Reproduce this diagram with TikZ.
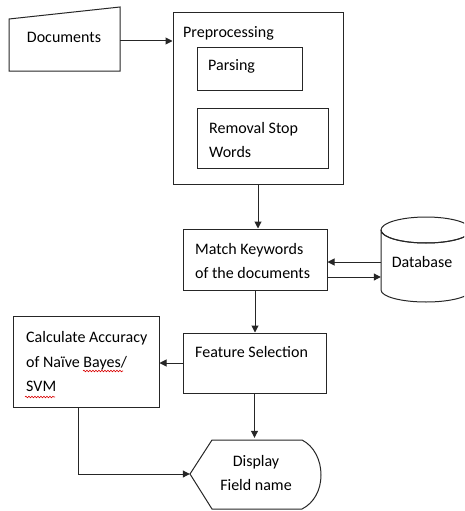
\documentclass[tikz,border=0pt]{standalone}
\usepackage{fontspec}
\setmainfont{Carlito}
\usetikzlibrary{arrows.meta,calc,decorations.pathmorphing}

\tikzset{
  line/.style={draw=black!85, line width=1pt},
  arr/.style={line, -{Triangle[length=7pt,width=7pt]}},
  box/.style={line, rectangle, inner sep=0pt, anchor=center},
  txt/.style={font=\fontsize{16}{24.5}\selectfont, align=left, inner sep=0pt},
  squiggle/.style={draw=red!85!black, line width=0.6pt,
    decorate, decoration={snake, amplitude=0.8pt, segment length=3pt}}
}

\begin{document}
\begin{tikzpicture}[x=1pt,y=-1pt]
\useasboundingbox (0,0) rectangle (464,511);
\clip (0,0) rectangle (464,511);

% Documents (manual input shape)
\draw[line] (9,19) -- (120,7) -- (120,71) -- (9,71) -- cycle;
\node[minimum width=111pt, minimum height=64pt, inner sep=0pt] (docs) at (64.5,39) {};
\node[txt] (docstxt) at (64,37) {Documents};

% Preprocessing block with its two steps
\node[box, minimum width=170pt, minimum height=171pt] (pre) at (258,98.5) {};
\node[txt, anchor=west] (pretxt) at (183,33) {Preprocessing};
\node[box, minimum width=105pt, minimum height=42pt] (parse) at (249.5,69) {};
\node[txt, anchor=west] (parsetxt) at (208,66) {Parsing};
\node[box, minimum width=131pt, minimum height=60pt] (stop) at (262.5,138) {};
\node[txt, anchor=west] (stoptxt) at (209,140) {Removal Stop\\Words};

% Keyword matching
\node[box, minimum width=144pt, minimum height=61pt] (match) at (255,259.5) {};
\node[txt, anchor=west] (matchtxt) at (195,261) {Match Keywords\\of the documents};

% Database cylinder
\node[minimum width=90pt, minimum height=73pt, inner sep=0pt] (db) at (426,260) {};
\draw[line] (381,230) -- (381,290)
  arc[start angle=180, end angle=360, x radius=45pt, y radius=12pt]
  -- (471,230)
  arc[start angle=0, end angle=360, x radius=45pt, y radius=13pt];
\draw[line] (381,230) arc[start angle=180, end angle=360, x radius=45pt, y radius=13pt];
\node[txt] (dbtxt) at (422,262) {Database};

% Feature selection
\node[box, minimum width=143pt, minimum height=60pt] (feat) at (254.5,363) {};
\node[txt, anchor=west] (feattxt) at (195,352) {Feature Selection};

% Accuracy
\node[box, minimum width=146pt, minimum height=91pt] (calc) at (86,361.5) {};
\node[txt, anchor=west] (calctxt) at (26,361.5) {Calculate Accuracy\\of Na\"ive Bayes/\\SVM};
\draw[squiggle] (83,371) -- (123,371);
\draw[squiggle] (25,397) -- (55,397);

% Display shape
\draw[line] (190,474) -- (212,440) -- (302,440)
  .. controls (314,446) and (321,460) .. (321,475)
  .. controls (321,490) and (314,503) .. (302,509)
  -- (212,509) -- cycle;
\node[minimum width=130pt, minimum height=72pt, inner sep=0pt] (disp) at (255,474) {};
\node[txt, align=center] (disptxt) at (256,473) {Display\\Field name};

% Connectors
\draw[arr] (docs.east |- 0,41) -- (pre.west |- 0,41);
\draw[arr] (pre.south) -- (pre.south |- match.north);
\draw[arr] (db.west |- 0,262) -- (match.east |- 0,262);
\draw[arr] (match.east |- 0,277) -- (db.west |- 0,277);
\draw[arr] (match.south) -- (match.south |- feat.north);
\draw[arr] (feat.west) -- (calc.east |- feat.west);
\draw[arr] (feat.south) -- (feat.south |- disp.north);
\draw[arr] ([xshift=-8pt]calc.south) |- (disp.west);
\end{tikzpicture}
\end{document}
